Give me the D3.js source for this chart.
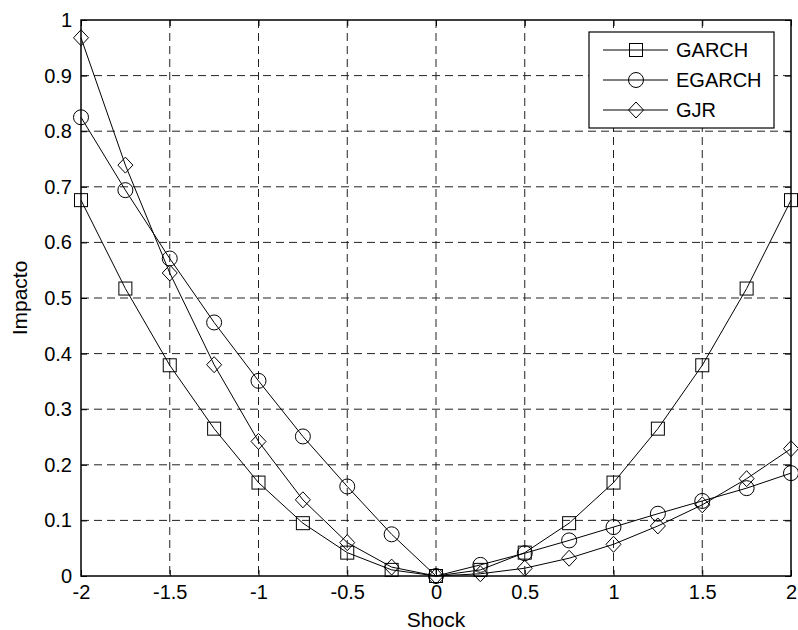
<!DOCTYPE html>
<html>
<head>
<meta charset="utf-8">
<script src="https://cdn.jsdelivr.net/npm/d3@7"></script>
<style>
  body { margin: 0; background: #fff; }
  text { font-family: "Liberation Sans", Arial, sans-serif; fill: #000; }
</style>
</head>
<body>
<div id="chart"></div>
<script>
// shock values (x axis)
var shocks = [-2, -1.75, -1.5, -1.25, -1, -0.75, -0.5, -0.25, 0, 0.25, 0.5, 0.75, 1, 1.25, 1.5, 1.75, 2];

// impact per model
var garch = [0.676, 0.517, 0.379, 0.265, 0.168, 0.095, 0.042, 0.011, 0, 0.011, 0.042, 0.095, 0.168, 0.265, 0.379, 0.517, 0.676];
var egarch = [0.825, 0.694, 0.571, 0.456, 0.351, 0.251, 0.161, 0.075, 0, 0.02, 0.041, 0.064, 0.088, 0.112, 0.135, 0.158, 0.185];
var gjr = [0.968, 0.739, 0.545, 0.38, 0.242, 0.137, 0.06, 0.016, 0, 0.004, 0.014, 0.032, 0.057, 0.09, 0.128, 0.175, 0.229];

var seriesNames = ["GARCH", "EGARCH", "GJR"];
var seriesMarkers = ["square", "circle", "diamond"];

var xTicks = [-2, -1.5, -1, -0.5, 0, 0.5, 1, 1.5, 2];
var yTicks = [0, 0.1, 0.2, 0.3, 0.4, 0.5, 0.6, 0.7, 0.8, 0.9, 1];

var w = 798, h = 630;
var pLeft = 81, pRight = 791, pTop = 20, pBottom = 576;

var svg = d3
  .select("#chart")
  .append("svg")
  .attr("width", w)
  .attr("height", h);

var x = d3.scaleLinear().domain([-2, 2]).range([pLeft, pRight]);
var y = d3.scaleLinear().domain([0, 1]).range([pBottom, pTop]);

// grid
svg
  .append("g")
  .selectAll("line")
  .data(xTicks.slice(1, -1))
  .enter()
  .append("line")
  .attr("x1", d => x(d))
  .attr("x2", d => x(d))
  .attr("y1", pTop)
  .attr("y2", pBottom)
  .attr("stroke", "#222")
  .attr("stroke-dasharray", "8,5");
svg
  .append("g")
  .selectAll("line")
  .data(yTicks.slice(1, -1))
  .enter()
  .append("line")
  .attr("x1", pLeft)
  .attr("x2", pRight)
  .attr("y1", d => y(d))
  .attr("y2", d => y(d))
  .attr("stroke", "#222")
  .attr("stroke-dasharray", "8,5");

// axes, ticks inside
var fmt = d => String(d);
var xAxis = svg
  .append("g")
  .attr("transform", "translate(0," + pBottom + ")")
  .call(d3.axisBottom(x).tickValues(xTicks).tickSizeInner(-6).tickSizeOuter(0).tickPadding(9).tickFormat(fmt));
var xTop = svg
  .append("g")
  .attr("transform", "translate(0," + pTop + ")")
  .call(d3.axisTop(x).tickValues(xTicks).tickSizeInner(-6).tickSizeOuter(0).tickFormat(""));
var yAxis = svg
  .append("g")
  .attr("transform", "translate(" + pLeft + ",0)")
  .call(d3.axisLeft(y).tickValues(yTicks).tickSizeInner(-6).tickSizeOuter(0).tickPadding(9).tickFormat(fmt));
var yRight = svg
  .append("g")
  .attr("transform", "translate(" + pRight + ",0)")
  .call(d3.axisRight(y).tickValues(yTicks).tickSizeInner(-6).tickSizeOuter(0).tickFormat(""));

[xAxis, xTop, yAxis, yRight].forEach(function (g) {
  g.select(".domain").remove();
  g.selectAll("line").attr("stroke", "#000");
  g.selectAll("text").style("font-size", "20px").attr("fill", "#000");
});

// box
svg
  .append("rect")
  .attr("x", pLeft)
  .attr("y", pTop)
  .attr("width", pRight - pLeft)
  .attr("height", pBottom - pTop)
  .attr("fill", "none")
  .attr("stroke", "#000")
  .attr("stroke-width", 1.5);

function marker(g, type, cx, cy) {
  if (type == "square") {
    g.append("rect")
      .attr("x", cx - 6.5)
      .attr("y", cy - 6.5)
      .attr("width", 13)
      .attr("height", 13);
  } else if (type == "circle") {
    g.append("circle").attr("cx", cx).attr("cy", cy).attr("r", 7.5);
  } else {
    g.append("path").attr(
      "d",
      "M" + cx + "," + (cy - 8) + "L" + (cx + 7.5) + "," + cy + "L" + cx + "," + (cy + 8) + "L" + (cx - 7.5) + "," + cy + "Z"
    );
  }
}

var line = d3
  .line()
  .x((d, i) => x(shocks[i]))
  .y(d => y(d));

// curves
[garch, egarch, gjr].forEach(function (vals, k) {
  var g = svg.append("g").attr("fill", "none").attr("stroke", "#000").attr("stroke-width", 1);
  g.append("path").attr("d", line(vals));
  vals.forEach(function (v, i) {
    marker(g, seriesMarkers[k], x(shocks[i]), y(v));
  });
});

// legend
var lg = svg.append("g");
lg.append("rect")
  .attr("x", 589)
  .attr("y", 32)
  .attr("width", 185)
  .attr("height", 96)
  .attr("fill", "#fff")
  .attr("stroke", "#000")
  .attr("stroke-width", 1.2);
seriesNames.forEach(function (name, k) {
  var ry = 50 + k * 30;
  var g = lg.append("g").attr("fill", "none").attr("stroke", "#000").attr("stroke-width", 1);
  g.append("line").attr("x1", 603).attr("x2", 668).attr("y1", ry).attr("y2", ry);
  marker(g, seriesMarkers[k], 636, ry);
  lg.append("text")
    .attr("x", 676)
    .attr("y", ry + 7)
    .style("font-size", "20px")
    .text(name);
});

// axis titles
svg
  .append("text")
  .attr("x", (pLeft + pRight) / 2)
  .attr("y", 627)
  .attr("text-anchor", "middle")
  .style("font-size", "21px")
  .text("Shock");
svg
  .append("text")
  .attr("transform", "translate(27," + (pTop + pBottom) / 2 + ") rotate(-90)")
  .attr("text-anchor", "middle")
  .style("font-size", "21px")
  .text("Impacto");
</script>
</body>
</html>
